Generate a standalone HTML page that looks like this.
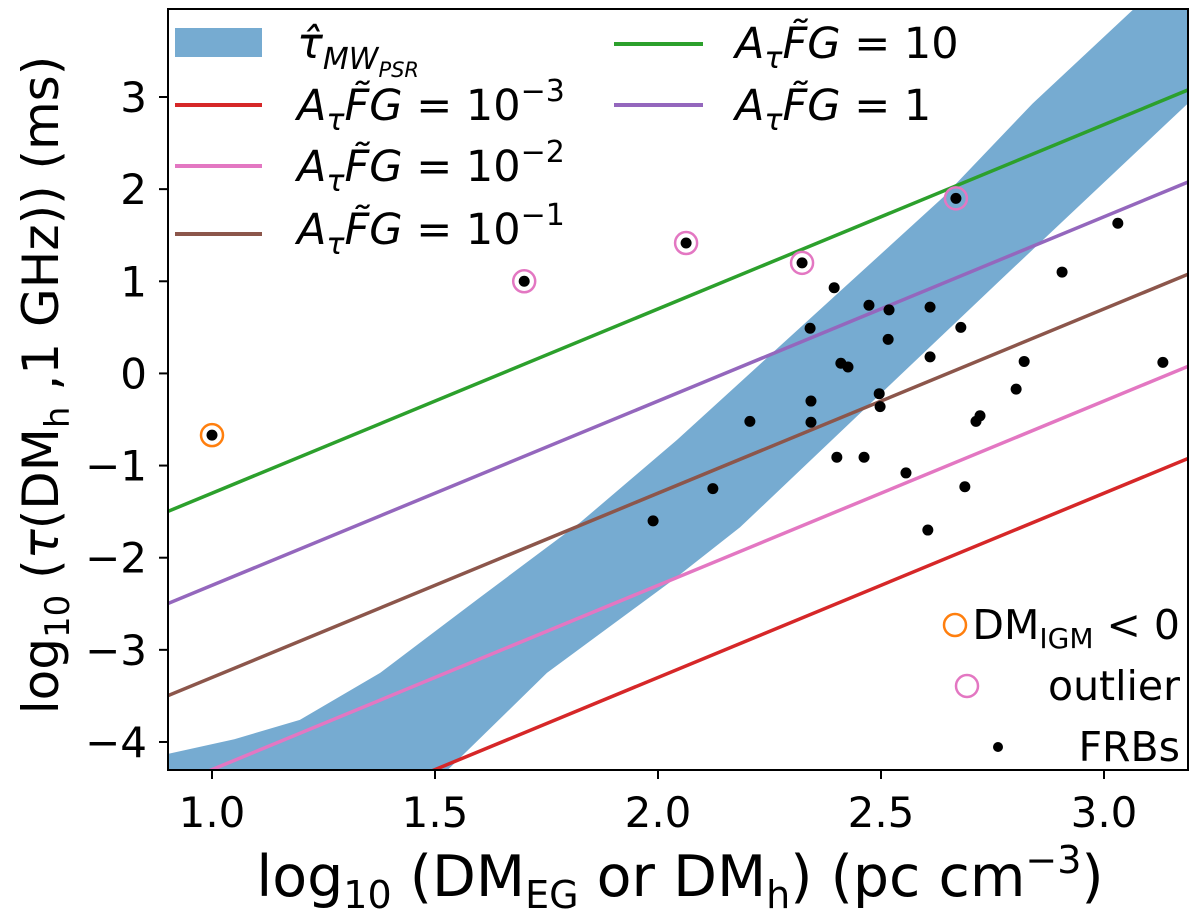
<!DOCTYPE html>
<html><head><meta charset="utf-8"><style>
html,body{margin:0;padding:0;background:#fff;}
svg{display:block;font-family:"DejaVu Sans","Liberation Sans",sans-serif;}
</style></head><body>
<svg id="chart" width="1200" height="921" viewBox="0 0 1200 921">
<defs><clipPath id="plotclip"><rect x="168" y="9" width="1020" height="761"/></clipPath></defs>
<g id="band" clip-path="url(#plotclip)"></g>
<g id="lines" clip-path="url(#plotclip)"></g>
<g id="points" clip-path="url(#plotclip)"></g>
<rect x="168" y="9" width="1020" height="761" fill="none" stroke="#000" stroke-width="2"/>
<g id="axes"></g>
<text x="680" y="896" font-size="57" text-anchor="middle">log<tspan font-size="38" dy="12">10</tspan><tspan dy="-12"> (DM</tspan><tspan font-size="38" dy="12">EG</tspan><tspan dy="-12"> or DM</tspan><tspan font-size="38" dy="12">h</tspan><tspan dy="-12">) (pc cm</tspan><tspan font-size="38" dy="-23">−3</tspan><tspan dy="23">)</tspan></text>
<text transform="translate(58,385) rotate(-90)" font-size="50" text-anchor="middle">log<tspan font-size="34" dy="11">10</tspan><tspan dy="-11"> (</tspan><tspan font-style="italic">τ</tspan><tspan>(DM</tspan><tspan font-size="34" dy="11">h</tspan><tspan dy="-11"> ,1 GHz)) (ms)</tspan></text>
<g font-size="43" font-style="italic">
<g><rect x="175" y="28" width="87" height="29" fill="#76abd1"/><text x="297" y="58">τ̂<tspan font-size="30" dy="11">MW</tspan><tspan font-size="21" dy="8">PSR</tspan></text></g>
<g><line x1="175" y1="105" x2="262" y2="105" stroke="#d62728" stroke-width="4"/><text x="297" y="120">A<tspan font-size="30" dy="10">τ</tspan><tspan dy="-10">F̃G <tspan font-style="normal">= 10</tspan></tspan><tspan font-size="30" dy="-19" font-style="normal">−3</tspan></text></g>
<g><line x1="175" y1="166" x2="262" y2="166" stroke="#e377c2" stroke-width="4"/><text x="297" y="181">A<tspan font-size="30" dy="10">τ</tspan><tspan dy="-10">F̃G <tspan font-style="normal">= 10</tspan></tspan><tspan font-size="30" dy="-19" font-style="normal">−2</tspan></text></g>
<g><line x1="175" y1="234" x2="262" y2="234" stroke="#8c564b" stroke-width="4"/><text x="297" y="244">A<tspan font-size="30" dy="10">τ</tspan><tspan dy="-10">F̃G <tspan font-style="normal">= 10</tspan></tspan><tspan font-size="30" dy="-19" font-style="normal">−1</tspan></text></g>
<g><line x1="614" y1="44" x2="703" y2="44" stroke="#2ca02c" stroke-width="4"/><text x="735" y="58">A<tspan font-size="30" dy="10">τ</tspan><tspan dy="-10">F̃G <tspan font-style="normal">= 10</tspan></tspan></text></g>
<g><line x1="614" y1="105" x2="703" y2="105" stroke="#9467bd" stroke-width="4"/><text x="735" y="120">A<tspan font-size="30" dy="10">τ</tspan><tspan dy="-10">F̃G <tspan font-style="normal">= 1</tspan></tspan></text></g>
</g>
<g font-size="41">
<g><circle cx="955" cy="625" r="11" fill="none" stroke="#ff7f0e" stroke-width="2.5"/><text x="1180" y="639" text-anchor="end">DM<tspan font-size="28" dy="9">IGM</tspan><tspan dy="-9"> &lt; 0</tspan></text></g>
<g><circle cx="967" cy="686" r="11" fill="none" stroke="#e377c2" stroke-width="2.5"/><text x="1180" y="700" text-anchor="end">outlier</text></g>
<g><circle cx="998" cy="747" r="5" fill="#000"/><text x="1180" y="761" text-anchor="end">FRBs</text></g>
</g>
</svg>
<script>
const NS='http://www.w3.org/2000/svg';
const xTicks=[1.0,1.5,2.0,2.5,3.0];
const xTickLabels=['1.0','1.5','2.0','2.5','3.0'];
const yTicks=[-4,-3,-2,-1,0,1,2,3];
const yTickLabels=['−4','−3','−2','−1','0','1','2','3'];
const lineAmps=[-3,-2,-1,0,1];
const lineColors=['#d62728','#e377c2','#8c564b','#9467bd','#2ca02c'];
const lineSlope=2, lineOffset=-4.3;
const bandUpperX=[0.85,0.90,1.05,1.197,1.377,1.601,1.825,2.043,2.639,2.84,3.07,3.2];
const bandUpperY=[-4.19,-4.13,-3.97,-3.76,-3.25,-2.43,-1.62,-0.72,1.91,2.93,3.97,4.6];
const bandLowerX=[1.30,1.527,1.751,2.034,2.184,2.767,3.188,3.3];
const bandLowerY=[-5.4,-4.31,-3.25,-2.24,-1.67,1.01,2.93,3.45];
const frbX=[2.395,2.473,2.518,2.610,2.679,2.341,2.516,2.610,2.410,2.426,2.343,2.496,2.498,2.206,2.343,2.722,2.713,2.401,2.462,2.556,2.688,2.123,1.989,2.605,3.031,2.906,2.821,3.132,2.803,2.063,2.323,2.668,1.70,1.0];
const frbY=[0.93,0.74,0.69,0.72,0.50,0.49,0.37,0.18,0.11,0.07,-0.30,-0.22,-0.36,-0.52,-0.53,-0.46,-0.52,-0.91,-0.91,-1.08,-1.23,-1.25,-1.60,-1.70,1.63,1.10,0.13,0.12,-0.17,1.415,1.20,1.90,1.00,-0.67];
const outlierX=[2.063,2.323,2.668,1.70];
const outlierY=[1.415,1.20,1.90,1.00];
const negX=[1.0];
const negY=[-0.67];
function sx(d){return 212+(d-1)*446;}
function sy(v){return 97+(3-v)*92.14;}
function mk(tag,attrs,parent){const e=document.createElementNS(NS,tag);for(const k in attrs)e.setAttribute(k,attrs[k]);parent.appendChild(e);return e;}
const band=document.getElementById('band');
let pts=[];
for(let i=0;i<bandUpperX.length;i++)pts.push(sx(bandUpperX[i])+','+sy(bandUpperY[i]));
for(let i=bandLowerX.length-1;i>=0;i--)pts.push(sx(bandLowerX[i])+','+sy(bandLowerY[i]));
pts.push(sx(0.85)+','+sy(-5.5));
const poly=mk('polygon',{points:pts.join(' '),fill:'#76abd1','stroke-linejoin':'round'},band);


const lines=document.getElementById('lines');
lineAmps.forEach((a,i)=>{
 const x0=0.85,x1=3.25;
 const l=mk('line',{x1:sx(x0),y1:sy(a+lineSlope*x0+lineOffset),x2:sx(x1),y2:sy(a+lineSlope*x1+lineOffset),stroke:lineColors[i],'stroke-width':3.5},lines);
 
 
});
const pg=document.getElementById('points');
outlierX.forEach((d,i)=>{
 const c=mk('circle',{cx:sx(d),cy:sy(outlierY[i]),r:11,fill:'none',stroke:'#e377c2','stroke-width':2.5},pg);
 
 
});
negX.forEach((d,i)=>{
 const c=mk('circle',{cx:sx(d),cy:sy(negY[i]),r:11,fill:'none',stroke:'#ff7f0e','stroke-width':2.5},pg);
 
 
});
frbX.forEach((d,i)=>{
 const c=mk('circle',{cx:sx(d),cy:sy(frbY[i]),r:5.5,fill:'#000'},pg);
 
 
});
const ax=document.getElementById('axes');
xTicks.forEach((t,i)=>{
 const x=sx(t);
 const tk=mk('line',{x1:x,y1:770,x2:x,y2:779,stroke:'#000','stroke-width':2},ax);
 
 
 const tx=mk('text',{x:x,y:827,'font-size':42,'text-anchor':'middle'},ax);
 tx.textContent=xTickLabels[i];
 
 
});
yTicks.forEach((t,i)=>{
 const y=sy(t);
 const tk=mk('line',{x1:159,y1:y,x2:168,y2:y,stroke:'#000','stroke-width':2},ax);
 
 
 const tx=mk('text',{x:147,y:y+15,'font-size':42,'text-anchor':'end'},ax);
 tx.textContent=yTickLabels[i];
 
 
});
</script>
</body></html>
